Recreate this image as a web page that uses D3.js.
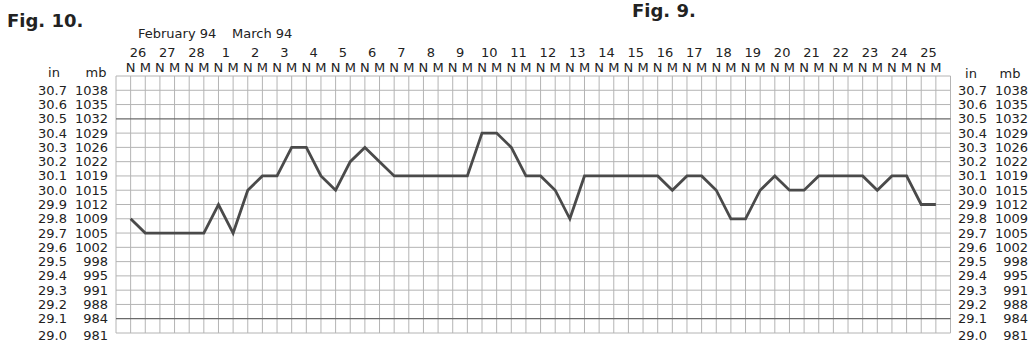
<!DOCTYPE html>
<html>
<head>
<meta charset="utf-8">
<script src="https://cdn.jsdelivr.net/npm/d3@7"></script>
<style>
  html, body { margin: 0; padding: 0; background: #fff; }
  svg { display: block; }
  text { font-family: "DejaVu Sans", sans-serif; fill: #222; }
</style>
</head>
<body>
<svg id="chart" width="1033" height="347"></svg>
<script>
// ---- data ----
const days = ["26","27","28","1","2","3","4","5","6","7","8","9","10","11","12","13","14","15","16","17","18","19","20","21","22","23","24","25"];
const halves = ["N","M"];
// barometric reading (inches) at each N / M reading, 26 Feb 94 .. 25 Mar 94
const pressureIn = [
  29.8, 29.7,   29.7, 29.7,   29.7, 29.7,   29.9, 29.7,   30.0, 30.1,
  30.1, 30.3,   30.3, 30.1,   30.0, 30.2,   30.3, 30.2,   30.1, 30.1,
  30.1, 30.1,   30.1, 30.1,   30.4, 30.4,   30.3, 30.1,   30.1, 30.0,
  29.8, 30.1,   30.1, 30.1,   30.1, 30.1,   30.1, 30.0,   30.1, 30.1,
  30.0, 29.8,   29.8, 30.0,   30.1, 30.0,   30.0, 30.1,   30.1, 30.1,
  30.1, 30.0,   30.1, 30.1,   29.9, 29.9
];
const inTicks = ["30.7","30.6","30.5","30.4","30.3","30.2","30.1","30.0","29.9","29.8","29.7","29.6","29.5","29.4","29.3","29.2","29.1","29.0"];
const mbTicks = ["1038","1035","1032","1029","1026","1022","1019","1015","1012","1009","1005","1002","998","995","991","988","984","981"];
const monthLabels = ["February 94", "March 94"];

// ---- layout ----
const svg = d3.select("#chart");
const nReadings = days.length * halves.length;   // 56
const x = d3.scaleLinear().domain([-1, nReadings]).range([116, 950.5]);
const y = d3.scaleLinear().domain([29.0, 30.8]).range([333, 76]);

const readings = d3.range(nReadings).map(i => ({
  i, day: days[Math.floor(i / 2)], half: halves[i % 2], v: pressureIn[i]
}));

// grid
const g = svg.append("g");
const yLines = d3.range(0, 19).map(k => +(29.0 + k * 0.1).toFixed(1));
const isDark = d => (d === 30.5 || d === 29.1);
g.selectAll("line.v").data(d3.range(-1, nReadings + 1)).join("line")
  .attr("x1", d => x(d)).attr("x2", d => x(d))
  .attr("y1", y(30.8)).attr("y2", y(29.0))
  .attr("stroke", "#b4b4b4").attr("stroke-width", 1);
g.selectAll("line.h").data(yLines).join("line")
  .attr("x1", x(-1)).attr("x2", x(nReadings))
  .attr("y1", d => y(d)).attr("y2", d => y(d))
  .attr("stroke", d => isDark(d) ? "#6a6a6a" : "#b4b4b4")
  .attr("stroke-width", d => isDark(d) ? 1.3 : 1);

// pressure line
const line = d3.line().x(d => x(d.i)).y(d => y(d.v));
svg.append("path").datum(readings)
  .attr("d", line)
  .attr("fill", "none")
  .attr("stroke", "#4a4a4a")
  .attr("stroke-width", 2.8)
  .attr("stroke-linejoin", "miter");

// N / M labels
svg.selectAll("text.nm").data(readings).join("text")
  .attr("x", d => x(d.i)).attr("y", 72)
  .attr("text-anchor", "middle").attr("font-size", 13)
  .text(d => d.half);

// day labels
svg.selectAll("text.day").data(days).join("text")
  .attr("x", (d, j) => x(j * 2 + 0.5)).attr("y", 57)
  .attr("text-anchor", "middle").attr("font-size", 13)
  .text(d => d);

// month labels
svg.append("text").attr("x", 138).attr("y", 38).attr("font-size", 13).text(monthLabels[0]);
svg.append("text").attr("x", 232).attr("y", 38).attr("font-size", 13).text(monthLabels[1]);

// y labels (left and right)
const tickY = (k) => y(+inTicks[k]) + 4.5 + (k === inTicks.length - 1 ? 2 : 0);
svg.append("text").attr("x", 54).attr("y", 77).attr("text-anchor", "middle").attr("font-size", 13).text("in");
svg.append("text").attr("x", 96).attr("y", 77).attr("text-anchor", "middle").attr("font-size", 13).text("mb");
svg.selectAll("text.inL").data(inTicks).join("text")
  .attr("x", 67).attr("y", (d, k) => tickY(k))
  .attr("text-anchor", "end").attr("font-size", 13).text(d => d);
svg.selectAll("text.mbL").data(mbTicks).join("text")
  .attr("x", 108).attr("y", (d, k) => tickY(k))
  .attr("text-anchor", "end").attr("font-size", 13).text(d => d);

svg.append("text").attr("x", 971).attr("y", 78).attr("text-anchor", "middle").attr("font-size", 13).text("in");
svg.append("text").attr("x", 1010).attr("y", 78).attr("text-anchor", "middle").attr("font-size", 13).text("mb");
svg.selectAll("text.inR").data(inTicks).join("text")
  .attr("x", 958).attr("y", (d, k) => tickY(k))
  .attr("text-anchor", "start").attr("font-size", 13).text(d => d);
svg.selectAll("text.mbR").data(mbTicks).join("text")
  .attr("x", 1028).attr("y", (d, k) => tickY(k))
  .attr("text-anchor", "end").attr("font-size", 13).text(d => d);

// figure captions
svg.append("text").attr("x", 7).attr("y", 27)
  .attr("font-size", 18).attr("font-weight", "bold").text("Fig. 10.");
svg.append("text").attr("x", 632).attr("y", 17)
  .attr("font-size", 18).attr("font-weight", "bold").text("Fig. 9.");
</script>
</body>
</html>
